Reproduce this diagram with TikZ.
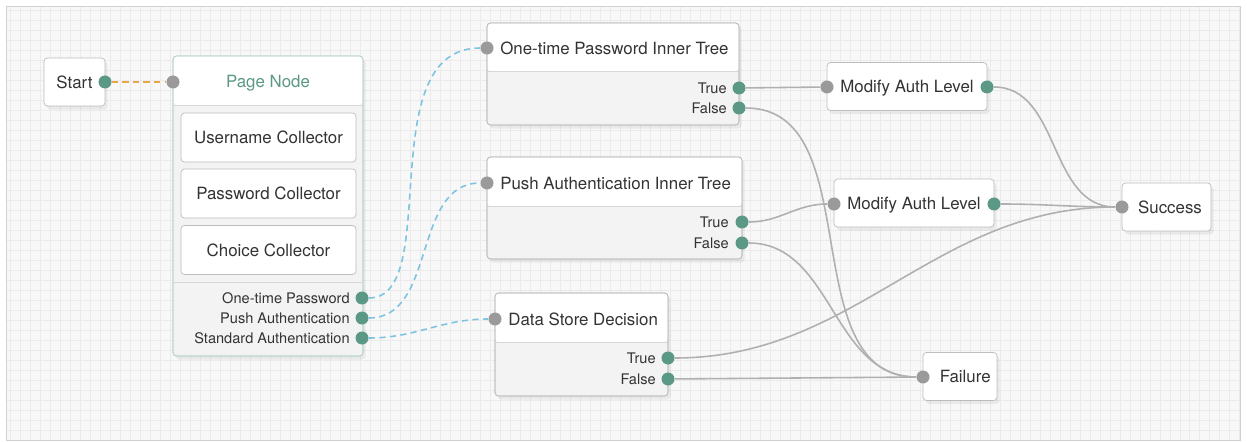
\documentclass[tikz,border=0pt]{standalone}
\usepackage{fontspec}
\setmainfont{TeX Gyre Heros}
\usetikzlibrary{positioning,shadows}
\definecolor{TreeBg}{HTML}{F8F8F8}
\definecolor{TreeGrid}{HTML}{EBEBEB}
\definecolor{TreeFrame}{HTML}{D0D0D0}
\definecolor{TreeEdge}{HTML}{BDBDBD}
\definecolor{TreeLow}{HTML}{F3F3F3}
\definecolor{TreeGreen}{HTML}{5B9885}
\definecolor{TreeGray}{HTML}{9A9A9A}
\definecolor{TreeWire}{HTML}{B0B0B0}
\definecolor{TreeBlue}{HTML}{7EC4E2}
\definecolor{TreeOrange}{HTML}{E8A84A}
\definecolor{TreeText}{HTML}{333333}

\tikzset{
  shade/.style={drop shadow={opacity=0.12,shadow xshift=1.5pt,shadow yshift=-2pt}},
  bodytext/.style={text=TreeText,font=\fontsize{9.6}{11}\selectfont,text height=6.9pt,text depth=0pt},
  plainbox/.style={draw=TreeEdge,fill=white,rounded corners=2pt,shade,
    minimum height=48*0.02cm,inner sep=0pt,bodytext},
  collbox/.style={draw=TreeEdge,fill=white,rounded corners=2pt,
    minimum width=175*0.02cm,minimum height=49*0.02cm,inner sep=0pt,bodytext},
  title/.style={anchor=west,inner sep=0pt,bodytext},
  portlabel/.style={anchor=east,inner sep=0pt,text=TreeText,font=\fontsize{8.3}{10}\selectfont,
    text height=6pt,text depth=0pt},
  indot/.style={circle,fill=TreeGray,minimum size=13*0.02cm,inner sep=0pt},
  outdot/.style={circle,fill=TreeGreen,minimum size=13*0.02cm,inner sep=0pt},
  wire/.style={draw=TreeWire,line width=0.9pt},
  optwire/.style={draw=TreeBlue,line width=0.9pt,dash pattern=on 3.5pt off 2.5pt},
  startwire/.style={draw=TreeOrange,line width=0.9pt,dash pattern=on 3.5pt off 2.5pt}
}

\begin{document}
\begin{tikzpicture}[x=0.02cm,y=-0.02cm]
  \useasboundingbox (0,0) rectangle (1247,442);
  % canvas
  \fill[TreeBg] (6,6) rectangle (1240,440);
  \draw[TreeGrid,line width=0.3pt,step=0.2cm] (6,6) grid (1240,440);
  \draw[TreeFrame] (6,6) rectangle (1240,440);

  % start
  \node[plainbox,minimum width=61*0.02cm] (start) at (74.5,82) {Start};
  \node[outdot] (startOut) at (105,82) {};

  % page node
  \draw[draw=TreeGreen!45,fill=TreeLow,rounded corners=2pt,shade] (173,56) rectangle (363,356);
  \fill[white,rounded corners=2pt] (173.5,105) -- (173.5,56.5) -- (362.5,56.5) -- (362.5,105) -- cycle;
  \draw[TreeGreen!45,rounded corners=2pt] (173,56) rectangle (363,356);
  \draw[TreeEdge!60] (173,105) -- (363,105);
  \draw[TreeEdge!60] (173,282) -- (363,282);
  \node[bodytext,text=TreeGreen] (pageTitle) at (268,81) {Page Node};
  \node[indot] (pageIn) at (173,82) {};
  \node[collbox] (userColl) at (268.5,137.5) {Username Collector};
  \node[collbox] (passColl) at (268.5,193.5) {Password Collector};
  \node[collbox] (choiceColl) at (268.5,250) {Choice Collector};
  \node[portlabel] (otpLbl) at (350,298) {One-time Password};
  \node[portlabel] (pushLbl) at (350,318) {Push Authentication};
  \node[portlabel] (stdLbl) at (350,338) {Standard Authentication};
  \node[outdot] (otpOut) at (362,298) {};
  \node[outdot] (pushOut) at (362,318) {};
  \node[outdot] (stdOut) at (362,338) {};

  % one-time password inner tree
  \draw[draw=TreeEdge,fill=TreeLow,rounded corners=2pt,shade] (487,23) rectangle (739,125);
  \fill[white,rounded corners=2pt] (487.5,71) -- (487.5,23.5) -- (738.5,23.5) -- (738.5,71) -- cycle;
  \draw[TreeEdge!60] (487,71) -- (739,71);
  \draw[TreeEdge,rounded corners=2pt] (487,23) rectangle (739,125);
  \node[title] (otpTitle) at (500,48) {One-time Password Inner Tree};
  \node[indot] (otpIn) at (487,48) {};
  \node[portlabel] (otpTLbl) at (727,88) {True};
  \node[portlabel] (otpFLbl) at (727,108) {False};
  \node[outdot] (otpT) at (739,88) {};
  \node[outdot] (otpF) at (739,108) {};

  % push authentication inner tree
  \draw[draw=TreeEdge,fill=TreeLow,rounded corners=2pt,shade] (487,157) rectangle (742,259);
  \fill[white,rounded corners=2pt] (487.5,206) -- (487.5,157.5) -- (741.5,157.5) -- (741.5,206) -- cycle;
  \draw[TreeEdge!60] (487,206) -- (742,206);
  \draw[TreeEdge,rounded corners=2pt] (487,157) rectangle (742,259);
  \node[title] (pushTitle) at (500,183) {Push Authentication Inner Tree};
  \node[indot] (pushIn) at (487,183) {};
  \node[portlabel] (pushTLbl) at (729,222) {True};
  \node[portlabel] (pushFLbl) at (729,243) {False};
  \node[outdot] (pushT) at (742,222) {};
  \node[outdot] (pushF) at (742,243) {};

  % data store decision
  \draw[draw=TreeEdge,fill=TreeLow,rounded corners=2pt,shade] (495,293) rectangle (668,396);
  \fill[white,rounded corners=2pt] (495.5,342) -- (495.5,293.5) -- (667.5,293.5) -- (667.5,342) -- cycle;
  \draw[TreeEdge!60] (495,342) -- (668,342);
  \draw[TreeEdge,rounded corners=2pt] (495,293) rectangle (668,396);
  \node[title] (dsdTitle) at (508,319) {Data Store Decision};
  \node[indot] (dsdIn) at (495,319) {};
  \node[portlabel] (dsdTLbl) at (656,358) {True};
  \node[portlabel] (dsdFLbl) at (656,379) {False};
  \node[outdot] (dsdT) at (668,358) {};
  \node[outdot] (dsdF) at (668,379) {};

  % modify auth level, success, failure
  \node[plainbox,minimum width=160*0.02cm] (malA) at (907,86.5) {Modify Auth Level};
  \node[indot] (malAIn) at (827,87) {};
  \node[outdot] (malAOut) at (987,87) {};
  \node[plainbox,minimum width=160*0.02cm] (malB) at (914,203) {Modify Auth Level};
  \node[indot] (malBIn) at (834,204) {};
  \node[outdot] (malBOut) at (994,204) {};
  \node[plainbox,minimum width=89*0.02cm] (success) at (1166.5,207) {\hspace*{4pt}Success};
  \node[indot] (successIn) at (1122,207) {};
  \node[plainbox,minimum width=74*0.02cm] (failure) at (960,376.5) {\hspace*{6pt}Failure};
  \node[indot] (failureIn) at (923,377) {};

  % connectors
  \draw[startwire] (startOut) -- (pageIn);
  \draw[optwire] (otpOut) to[out=0,in=180,out distance=1.5cm,in distance=2.2cm] (otpIn);
  \draw[optwire] (pushOut) to[out=0,in=180] (pushIn);
  \draw[optwire] (stdOut) to[out=0,in=180] (dsdIn);
  \draw[wire] (otpT) -- (malAIn);
  \draw[wire] (otpF) to[out=0,in=180] (failureIn);
  \draw[wire] (pushT) to[out=0,in=180] (malBIn);
  \draw[wire] (pushF) to[out=0,in=180] (failureIn);
  \draw[wire] (dsdT) to[out=0,in=180] (successIn);
  \draw[wire] (dsdF) -- (failureIn);
  \draw[wire] (malAOut) to[out=0,in=180] (successIn);
  \draw[wire] (malBOut) to[out=0,in=180] (successIn);
\end{tikzpicture}
\end{document}
